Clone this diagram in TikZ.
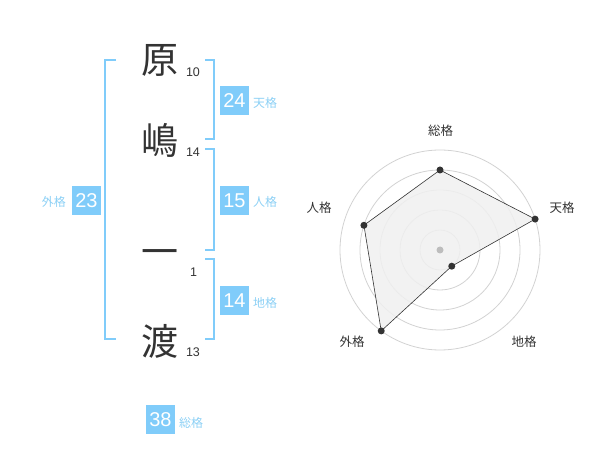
\documentclass[tikz,border=0pt]{standalone}
\usepackage{fontspec}
\setmainfont{Liberation Sans}
\newfontfamily\jp{Noto Sans CJK JP}
\definecolor{kaku}{RGB}{128,204,250}
\definecolor{kakutext}{RGB}{140,208,245}
\definecolor{sumi}{RGB}{51,51,51}
\definecolor{ring}{RGB}{210,210,210}
\definecolor{radarfill}{RGB}{240,240,240}

\begin{document}
\begin{tikzpicture}[x=1pt, y=-1pt,
  kanji/.style={font=\jp\fontsize{37}{37}\selectfont, text=sumi, inner sep=0pt},
  kakusu/.style={font=\fontsize{12.5}{12.5}\selectfont, text=sumi, inner sep=0pt},
  kakubox/.style={fill=kaku, text=white, minimum size=29pt, inner sep=0pt, font=\fontsize{20}{20}\selectfont},
  kakuname/.style={text=kakutext, font=\jp\fontsize{12}{12}\selectfont, inner sep=0pt},
  bracket/.style={draw=kaku, line width=1.8pt},
  radarname/.style={text=sumi, font=\jp\fontsize{12.5}{12.5}\selectfont, inner sep=0pt},
  vertex/.style={fill=sumi, draw=none}]
\useasboundingbox (0, 0) rectangle (600, 470);

% name characters and stroke counts
\node [kanji] (c1) at (160, 60) {原};
\node [kanji] (c2) at (160, 140) {嶋};
\node [kanji] (c3) at (160, 258) {一};
\node [kanji] (c4) at (160, 341) {渡};
\node [kakusu] (n1) at (193, 72.5) {10};
\node [kakusu] (n2) at (193, 152) {14};
\node [kakusu] (n3) at (193.5, 272) {1};
\node [kakusu] (n4) at (193, 352.5) {13};

% brackets
\draw [bracket] (116, 60) -- (105, 60) -- (105, 339) -- (116, 339);
\draw [bracket] (205, 60) -- (214, 60) -- (214, 139) -- (205, 139);
\draw [bracket] (205, 149) -- (214, 149) -- (214, 250) -- (205, 250);
\draw [bracket] (205, 259) -- (214, 259) -- (214, 339) -- (205, 339);

% scores
\node [kakubox] (ten) at (234.5, 100.5) {24};
\node [kakuname, anchor=west] (tenl) at (253, 103) {天格};
\node [kakubox] (jin) at (234.5, 200.5) {15};
\node [kakuname, anchor=west] (jinl) at (253, 202) {人格};
\node [kakubox] (chi) at (234.5, 300.5) {14};
\node [kakuname, anchor=west] (chil) at (253, 303) {地格};
\node [kakubox] (gai) at (86.5, 200.5) {23};
\node [kakuname, anchor=east] (gail) at (66, 202) {外格};
\node [kakubox] (sou) at (160.5, 419.5) {38};
\node [kakuname, anchor=west] (soul) at (179, 423) {総格};

% radar chart
\coordinate (rc) at (440, 250);
\foreach \r in {20, 40, 60, 80, 100}
  \draw [ring, line width=0.8pt] (rc) circle [radius=\r pt];
\path (rc) ++(90:80pt) coordinate (rsou);
\path (rc) ++(18:100pt) coordinate (rten);
\path (rc) ++(-54:20pt) coordinate (rchi);
\path (rc) ++(-126:100pt) coordinate (rgai);
\path (rc) ++(162:80pt) coordinate (rjin);
\fill [radarfill, opacity=0.85] (rsou) -- (rten) -- (rchi) -- (rgai) -- (rjin) -- cycle;
\draw [sumi, line width=0.6pt] (rsou) -- (rten) -- (rchi) -- (rgai) -- (rjin) -- cycle;
\fill [ring!90!black] (rc) circle [radius=3.5pt];
\foreach \p in {rsou, rten, rchi, rgai, rjin}
  \fill [vertex] (\p) circle [radius=3.5pt];
\node [radarname] (lsou) at (440.5, 130.5) {総格};
\node [radarname] (lten) at (562, 208) {天格};
\node [radarname] (lchi) at (524, 342) {地格};
\node [radarname] (lgai) at (352, 342) {外格};
\node [radarname] (ljin) at (319, 208) {人格};
\end{tikzpicture}
\end{document}
